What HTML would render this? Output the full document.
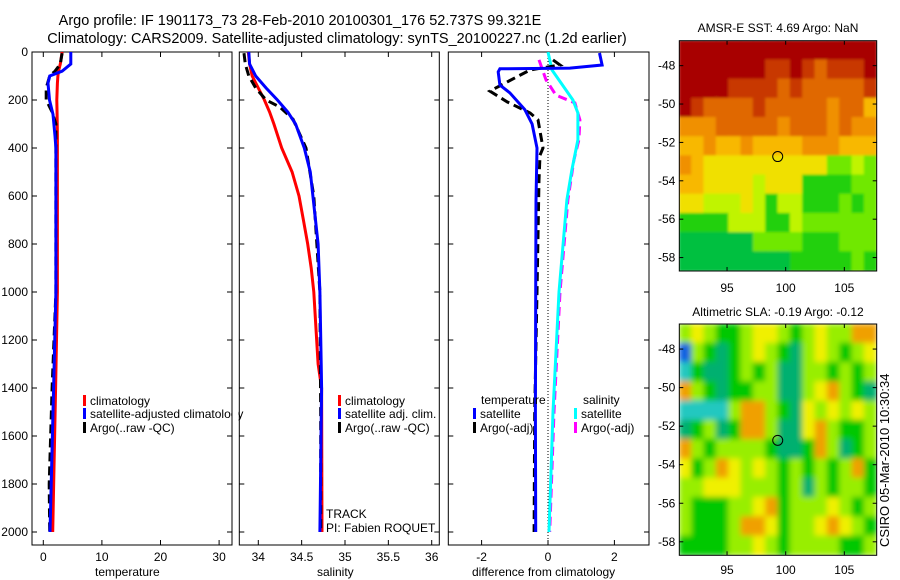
<!DOCTYPE html>
<html><head><meta charset="utf-8"><style>
body{margin:0;background:#fff;}
svg{display:block;font-family:"Liberation Sans",sans-serif;}
text{fill:#000;}
</style></head><body>
<svg id="fig" width="900" height="580" viewBox="0 0 900 580" xmlns="http://www.w3.org/2000/svg">
<defs>
<clipPath id="cp1"><rect x="32" y="52" width="200" height="493"/></clipPath>
<clipPath id="cp2"><rect x="239" y="52" width="200" height="493"/></clipPath>
<clipPath id="cp3"><rect x="448" y="52" width="201" height="493"/></clipPath>
<clipPath id="cpm1"><rect x="679.3" y="40.7" width="197.4" height="230.3"/></clipPath>
<clipPath id="cpm2"><rect x="679.3" y="324" width="197.4" height="231.3"/></clipPath>
<filter id="bl2" x="-5%" y="-5%" width="110%" height="110%"><feGaussianBlur stdDeviation="1.2"/></filter>
<filter id="bl4" x="-5%" y="-5%" width="110%" height="110%"><feGaussianBlur stdDeviation="3"/></filter>
</defs>
<text x="300" y="25" font-size="14.5" text-anchor="middle">Argo profile: IF 1901173_73 28-Feb-2010 20100301_176 52.737S 99.321E</text>
<text x="337" y="43" font-size="14.5" text-anchor="middle">Climatology: CARS2009. Satellite-adjusted climatology: synTS_20100227.nc (1.2d earlier)</text>
<g id="g1"></g>
<g id="g2"></g>
<g id="g3"></g>
<g id="gm1"></g>
<g id="gm2"></g>
<text transform="translate(889,547) rotate(-90)" font-size="13">CSIRO 05-Mar-2010 10:30:34</text>
</svg>
<script>
// ---------- data ----------
const depthT = [0, 50, 80, 100, 130, 200, 260, 350, 400, 1000, 1400, 2000];
const tempClim = [3.2, 2.9, 2.6, 2.5, 2.4, 2.3, 2.35, 2.4, 2.4, 2.4, 2.1, 1.6];
const tempSat = [4.7, 4.7, 3.2, 1.1, 0.8, 1.05, 1.65, 2.0, 2.15, 2.15, 1.75, 1.15];
const depthArgoT = [5, 50, 80, 100, 150, 200, 250, 300, 1000, 1400, 1800, 2000];
const tempArgo = [3.2, 2.9, 2.0, 1.1, 0.5, 0.5, 1.5, 2.15, 2.15, 1.5, 1.0, 1.1];

const depthS = [0, 50, 100, 150, 200, 250, 300, 400, 500, 600, 700, 800, 900, 1000, 1300, 1400, 2000];
const salClim = [33.885, 33.9, 33.93, 34.0, 34.07, 34.13, 34.18, 34.27, 34.39, 34.47, 34.52, 34.57, 34.61, 34.64, 34.69, 34.73, 34.735];
const salSat = [33.89, 33.9, 33.97, 34.09, 34.22, 34.34, 34.43, 34.53, 34.6, 34.63, 34.66, 34.69, 34.70, 34.71, 34.725, 34.73, 34.71];
const depthArgoS = [5, 50, 100, 150, 200, 230, 280, 400, 600, 1000, 1500, 2000];
const salArgo = [33.835, 33.85, 33.89, 33.97, 34.09, 34.25, 34.4, 34.55, 34.64, 34.71, 34.72, 34.72];

const depthD = [4, 54, 67, 70, 83, 138, 170, 240, 300, 400, 620, 1000, 1500, 2000];
const diffTSat = [1.55, 1.63, 0.66, -1.45, -1.5, -1.45, -1.15, -0.7, -0.48, -0.33, -0.36, -0.37, -0.38, -0.37];
const depthDA = [33, 54, 75, 108, 163, 208, 254, 283, 400, 430, 533, 1000, 1500, 2000];
const diffTArgo = [0.15, 0.36, -0.54, -1.0, -1.75, -1.23, -0.54, -0.3, -0.15, -0.24, -0.27, -0.33, -0.4, -0.42];
const depthDS = [0, 75, 200, 254, 366, 491, 616, 1000, 1500, 2000];
const diffSSat = [0.0, 0.12, 0.75, 0.9, 0.9, 0.72, 0.57, 0.33, 0.15, 0.03];
const depthDSA = [33, 116, 180, 212, 283, 366, 450, 616, 1000, 1500, 2000];
const diffSArgo = [-0.27, -0.06, 0.24, 0.81, 0.96, 0.93, 0.78, 0.6, 0.36, 0.18, 0.05];

const depthTicks = [0, 200, 400, 600, 800, 1000, 1200, 1400, 1600, 1800, 2000];
const tempTicks = [0, 10, 20, 30];
const salTicks = [34, 34.5, 35, 35.5, 36];
const salTickLabels = ["34", "34.5", "35", "35.5", "36"];
const diffTicks = [-2, 0, 2];
const lonTicks = [95, 100, 105];
const latTicks = [-48, -50, -52, -54, -56, -58];

const sstGrid = [
[9,9,9,9,9,9,9,9,9,9,9,9,9,9,9,9],
[9,9,9,9,9,9,9,8,8,9,8,7,8,8,8,9],
[9,9,9,9,8,8,8,8,7,8,7,7,7,7,7,8],
[9,8,7,7,7,7,8,7,7,7,7,7,6,7,7,5],
[6,6,6,7,7,7,7,7,6,7,7,7,6,7,6,6],
[5,5,6,5,5,6,5,5,5,5,6,6,6,5,5,5],
[6,5,4,4,4,4,4,4,4,4,4,4,2,2,3,2],
[5,5,4,4,4,4,3,4,4,4,1,1,1,1,2,2],
[4,4,3,3,3,4,3,1,3,3,1,1,1,2,1,2],
[1,1,1,1,3,3,3,1,1,3,2,2,2,2,2,2],
[0,0,0,0,0,0,2,2,2,2,1,1,1,2,2,2],
[0,0,0,0,0,0,0,0,0,1,1,1,1,1,2,1]];
const sstColors = ["#00c040","#20d010","#70e800","#c0f400","#f0e000","#f8b800","#f09000","#e06800","#c83800","#a80000"];
const slaGrid = [
[1,2,1,0,0,1,2,2,1,0,1,2,1,1,3,3],
[-3,1,0,-1,0,1,2,1,0,-1,1,2,1,0,1,2],
[-2,0,-1,-1,0,1,0,1,-1,-1,1,1,0,1,0,1],
[3,1,0,-1,0,0,1,1,-1,-1,1,2,3,1,0,-1],
[-2,-2,-2,-2,1,3,3,1,0,-1,2,1,2,1,2,1],
[-1,0,1,-1,0,3,3,1,-1,-1,2,3,1,0,0,1],
[3,1,0,1,1,1,1,0,-1,-1,0,3,1,-1,0,1],
[2,0,1,3,2,1,2,1,0,1,0,1,0,1,3,0],
[1,1,2,2,2,1,1,1,0,1,-1,1,0,1,1,0],
[1,0,0,0,1,1,2,3,0,1,1,1,2,1,0,1],
[1,0,0,0,1,3,3,2,0,1,1,2,3,2,1,0],
[0,0,0,0,1,1,2,1,0,1,1,1,1,0,0,1]];
const slaColors = ["#1060e0","#20c8c0","#00b070","#00c800","#98ee00","#f0f000","#f0a000"];
const argoLon = 99.321, argoLat = -52.737;

// ---------- helpers ----------
const NS = "http://www.w3.org/2000/svg";
function mk(tag, attrs, parent) {
  const e = document.createElementNS(NS, tag);
  for (const k in attrs) e.setAttribute(k, attrs[k]);
  parent.appendChild(e);
  return e;
}
const yD = d => 52 + d * 0.24;
const xT = v => 43.3 + v * 5.86;
const xS = v => 258.3 + (v - 34) * 86.7;
const xDf = v => 548 + v * 33.2;
const PB = 545, PT = 52;

function frame(g, x0, x1, ticksX, labX, fx, yLabels) {
  const r = mk("rect", {x: x0, y: PT, width: x1 - x0, height: PB - PT, fill: "none", stroke: "#000", "stroke-width": 1}, g);
  
  
  ticksX.forEach((v, i) => {
    const x = fx(v);
    mk("line", {x1: x, x2: x, y1: PB, y2: PB - 5, stroke: "#000"}, g);
    mk("line", {x1: x, x2: x, y1: PT, y2: PT + 5, stroke: "#000"}, g);
    const t = mk("text", {x: x, y: PB + 16, "font-size": 12, "text-anchor": "middle"}, g);
    t.textContent = labX[i];
    
    
  });
  depthTicks.forEach(d => {
    const y = yD(d);
    mk("line", {x1: x0, x2: x0 + 5, y1: y, y2: y, stroke: "#000"}, g);
    mk("line", {x1: x1, x2: x1 - 5, y1: y, y2: y, stroke: "#000"}, g);
    if (yLabels) {
      const t = mk("text", {x: x0 - 4, y: y + 4, "font-size": 12, "text-anchor": "end"}, g);
      t.textContent = d;
      
      
    }
  });
}
function line(g, xs, ds, fx, color, dash, name, clip) {
  const pts = xs.map((v, i) => fx(v).toFixed(1) + "," + yD(ds[i]).toFixed(1)).join(" ");
  const p = mk("polyline", {points: pts, fill: "none", stroke: color, "stroke-width": 3, "clip-path": clip}, g);
  if (dash) p.setAttribute("stroke-dasharray", dash);
  
  
}
function label(g, x, y, s, name) {
  const t = mk("text", {x: x, y: y, "font-size": 12}, g);
  t.textContent = s;
  
  
}
function legend(g, x, y, color, s, name) {
  const r = mk("rect", {x: x, y: y - 10, width: 3, height: 11, fill: color}, g);
  
  
  label(g, x + 7, y, s, name);
}

// ---------- panel 1 ----------
const g1 = document.getElementById("g1");
frame(g1, 32, 232, tempTicks, tempTicks.map(String), xT, true);
line(g1, tempClim, depthT, xT, "#ff0000", null, "climatology-temp-line", "url(#cp1)");
line(g1, tempArgo, depthArgoT, xT, "#000000", "9,5", "argo-temp-line", "url(#cp1)");
line(g1, tempSat, depthT, xT, "#0000ff", null, "satellite-temp-line", "url(#cp1)");
label(g1, 95, 576, "temperature", "x-axis-title");
legend(g1, 83, 405, "#ff0000", "climatology", "legend-climatology");
legend(g1, 83, 418, "#0000ff", "satellite-adjusted climatology", "legend-satellite");
legend(g1, 83, 432, "#000000", "Argo(..raw -QC)", "legend-argo");
mk("rect", {x: 232.5, y: 395, width: 6, height: 30, fill: "#fff"}, g1);
mk("line", {x1: 232, x2: 232, y1: 395, y2: 425, stroke: "#000"}, g1);

// ---------- panel 2 ----------
const g2 = document.getElementById("g2");
frame(g2, 239.3, 439.3, salTicks, salTickLabels, xS, false);
line(g2, salClim, depthS, xS, "#ff0000", null, "climatology-salinity-line", "url(#cp2)");
line(g2, salArgo, depthArgoS, xS, "#000000", "9,5", "argo-salinity-line", "url(#cp2)");
line(g2, salSat, depthS, xS, "#0000ff", null, "satellite-salinity-line", "url(#cp2)");
label(g2, 317, 576, "salinity", "x-axis-title");
legend(g2, 338, 405, "#ff0000", "climatology", "legend-climatology");
legend(g2, 338, 418, "#0000ff", "satellite adj. clim.", "legend-satellite");
legend(g2, 338, 432, "#000000", "Argo(..raw -QC)", "legend-argo");
label(g2, 326, 518, "TRACK", "track-label");
label(g2, 326, 532, "PI: Fabien ROQUET", "pi-label");

// ---------- panel 3 ----------
const g3 = document.getElementById("g3");
frame(g3, 448.3, 649, diffTicks, diffTicks.map(String), xDf, false);
mk("line", {x1: xDf(0), x2: xDf(0), y1: PT, y2: PB, stroke: "#000", "stroke-width": 1, "stroke-dasharray": "1,2"}, g3);
line(g3, diffSArgo, depthDSA, xDf, "#ff00ff", "9,5", "argo-salinity-diff-line", "url(#cp3)");
line(g3, diffSSat, depthDS, xDf, "#00ffff", null, "satellite-salinity-diff-line", "url(#cp3)");
line(g3, diffTArgo, depthDA, xDf, "#000000", "9,5", "argo-temp-diff-line", "url(#cp3)");
line(g3, diffTSat, depthD, xDf, "#0000ff", null, "satellite-temp-diff-line", "url(#cp3)");
label(g3, 472, 576, "difference from climatology", "x-axis-title");
label(g3, 481, 404, "temperature", "legend-temperature-header");
legend(g3, 473, 418, "#0000ff", "satellite", "legend-temp-satellite");
legend(g3, 473, 432, "#000000", "Argo(-adj)", "legend-temp-argo");
label(g3, 583, 404, "salinity", "legend-salinity-header");
legend(g3, 574, 418, "#00ffff", "satellite", "legend-sal-satellite");
legend(g3, 574, 432, "#ff00ff", "Argo(-adj)", "legend-sal-argo");

// ---------- maps ----------
function map(g, grid, colors, offset, top, bottom, clip, filt, title, titleY, lonLabY) {
  const x0 = 679.3, x1 = 876.7;
  const latTop = -46.7, latBot = -58.7, lonL = 90.93, lonR = 107.76;
  const fx = lon => x0 + (lon - lonL) / (lonR - lonL) * (x1 - x0);
  const fy = lat => top + (lat - latTop) / (latBot - latTop) * (bottom - top);
  const cg = mk("g", {"clip-path": clip}, g);
  const ig = mk("g", {filter: filt}, cg);
  const nr = grid.length, nc = grid[0].length;
  const cw = (x1 - x0) / nc, ch = (bottom - top) / nr;
  grid.forEach((row, r) => row.forEach((v, c) => {
    const cell = mk("rect", {x: x0 + c * cw - 0.5, y: top + r * ch - 0.5, width: cw + 1, height: ch + 1, fill: colors[v + offset]}, ig);
    
    
  }));
  const fr = mk("rect", {x: x0, y: top, width: x1 - x0, height: bottom - top, fill: "none", stroke: "#000"}, g);
  
  
  latTicks.forEach(lat => {
    const y = fy(lat);
    mk("line", {x1: x0, x2: x0 + 4, y1: y, y2: y, stroke: "#000"}, g);
    mk("line", {x1: x1, x2: x1 - 4, y1: y, y2: y, stroke: "#000"}, g);
    const t = mk("text", {x: x0 - 4, y: y + 4, "font-size": 12, "text-anchor": "end"}, g);
    t.textContent = lat;
    
    
  });
  lonTicks.forEach(lon => {
    const x = fx(lon);
    mk("line", {x1: x, x2: x, y1: bottom, y2: bottom - 4, stroke: "#000"}, g);
    mk("line", {x1: x, x2: x, y1: top, y2: top + 4, stroke: "#000"}, g);
    const t = mk("text", {x: x, y: lonLabY, "font-size": 12, "text-anchor": "middle"}, g);
    t.textContent = lon;
    
    
  });
  const c = mk("ellipse", {cx: fx(argoLon), cy: fy(argoLat), rx: 5, ry: 5, fill: "none", stroke: "#000"}, g);
  
  
  const t = mk("text", {x: 778, y: titleY, "font-size": 12, "text-anchor": "middle"}, g);
  t.textContent = title;
  
  
}
map(document.getElementById("gm1"), sstGrid, sstColors, 0, 40.7, 271, "url(#cpm1)", "url(#bl2)", "AMSR-E SST: 4.69 Argo: NaN", 32, 292);
map(document.getElementById("gm2"), slaGrid, slaColors, 3, 324, 555.3, "url(#cpm2)", "url(#bl4)", "Altimetric SLA: -0.19 Argo: -0.12", 316, 574);
</script>
</body></html>
